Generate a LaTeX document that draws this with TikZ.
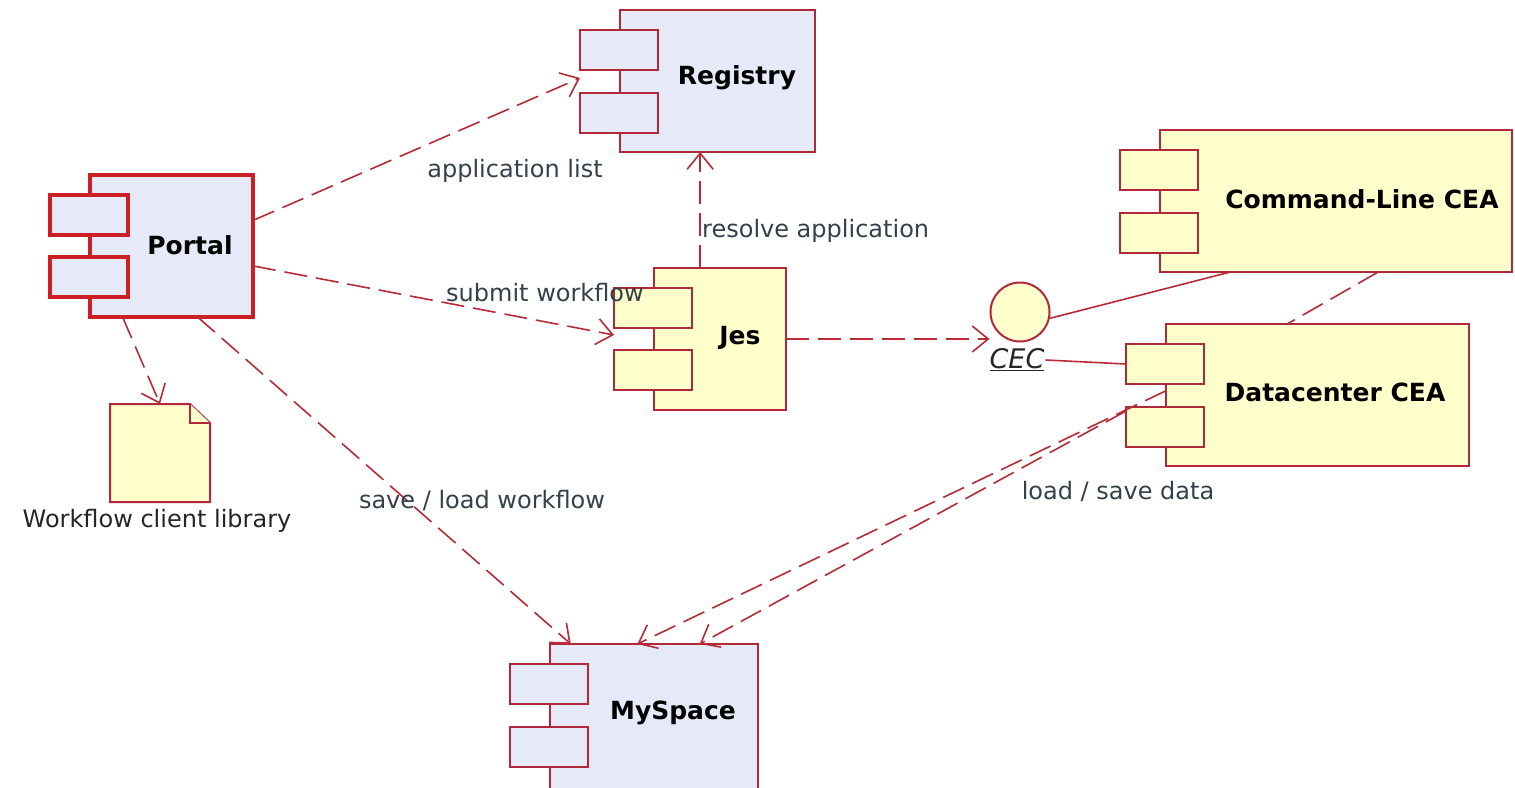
\documentclass[tikz,border=0pt]{standalone}
\usepackage{fontspec}
\setmainfont{DejaVu Sans}
\usetikzlibrary{arrows.meta,calc}
\definecolor{lav}{HTML}{E6E9F8}
\definecolor{cream}{HTML}{FFFFCC}
\definecolor{edge}{HTML}{B0283A}
\definecolor{hot}{HTML}{CC1F25}
\definecolor{wire}{HTML}{B82A36}
\definecolor{ink}{HTML}{34404A}
\tikzset{
  part/.style={draw=edge, line width=2pt, inner sep=0pt, outer sep=0pt, anchor=north west},
  port/.style={part, minimum width=78pt, minimum height=40pt},
  title/.style={font=\fontsize{25}{30}\selectfont\bfseries, text=black, inner sep=0pt},
  tag/.style={font=\fontsize{24}{29}\selectfont, text=ink, inner sep=1pt},
  dep/.style={draw=wire, line width=1.6pt, dash pattern=on 23pt off 9pt,
    -{Straight Barb[length=16pt, width=26pt, line width=1.6pt]}},
  plaindash/.style={draw=wire, line width=1.6pt, dash pattern=on 23pt off 9pt},
  link/.style={draw=wire, line width=1.6pt},
}
\begin{document}
\begin{tikzpicture}[x=1pt, y=-1pt]
\useasboundingbox (0,0) rectangle (1515,787);
\clip (0,0) rectangle (1515,787);
\fill[white] (0,0) rectangle (1515,787);

% Portal (highlighted component)
\node[part, draw=hot, line width=3.2pt, fill=lav, minimum width=163pt, minimum height=142pt] (portal) at (90,175) {};
\node[port, draw=hot, line width=3.2pt, fill=lav] (portal-a) at (50,195) {};
\node[port, draw=hot, line width=3.2pt, fill=lav] (portal-b) at (50,257) {};
\node[title] (portal-t) at (190,245) {Portal};

% Registry
\node[part, fill=lav, minimum width=195pt, minimum height=142pt] (reg) at (620,10) {};
\node[port, fill=lav] (reg-a) at (580,30) {};
\node[port, fill=lav] (reg-b) at (580,93) {};
\node[title] (reg-t) at (737,78) {Registry};

% Jes
\node[part, fill=cream, minimum width=132pt, minimum height=142pt] (jes) at (654,268) {};
\node[port, fill=cream] (jes-a) at (614,288) {};
\node[port, fill=cream] (jes-b) at (614,350) {};
\node[title] (jes-t) at (740,338) {Jes};

% Command-Line CEA
\node[part, fill=cream, minimum width=352pt, minimum height=142pt] (cl) at (1160,130) {};
\node[port, fill=cream] (cl-a) at (1120,150) {};
\node[port, fill=cream] (cl-b) at (1120,213) {};
\node[title] (cl-t) at (1362,199) {Command-Line CEA};

% Datacenter CEA
\node[part, fill=cream, minimum width=303pt, minimum height=142pt] (dc) at (1166,324) {};
\node[port, fill=cream] (dc-a) at (1126,344) {};
\node[port, fill=cream] (dc-b) at (1126,407) {};
\node[title] (dc-t) at (1335,392) {Datacenter CEA};

% MySpace
\node[part, fill=lav, minimum width=208pt, minimum height=170pt] (mys) at (550,644) {};
\node[port, fill=lav] (mys-a) at (510,664) {};
\node[port, fill=lav] (mys-b) at (510,727) {};
\node[title] (mys-t) at (673,713) {MySpace};

% Workflow client library (document icon)
\node[inner sep=0pt, outer sep=0pt, minimum width=100pt, minimum height=98pt, anchor=north west] (lib) at (110,404) {};
\draw[edge, line width=2pt, fill=cream, line join=miter]
  (lib.north west) -- ($(lib.north east)+(-20,0)$) -- ($(lib.north east)+(0,19)$)
  -- (lib.south east) -- (lib.south west) -- cycle;
\draw[edge, line width=1.6pt, fill=cream]
  ($(lib.north east)+(-20,0)$) -- ($(lib.north east)+(-20,19)$) -- ($(lib.north east)+(0,19)$);
\node[tag, text=black!85] (lib-t) at (157,521) {Workflow client library};

% CEC interface
\node[circle, draw=edge, fill=cream, line width=2pt, minimum size=59pt, inner sep=0pt] (cec) at (1020,312) {};
\node[font=\fontsize{27}{31}\selectfont\itshape, text=black!85, inner sep=1pt] (cec-t) at (1017,360) {\underline{CEC}};

% Connectors
\draw[dep] ($(portal.north east)!0.32!(portal.south east)$) -- ($(reg-a.south west)+(0,8)$);
\draw[dep] ($(portal.north east)!0.64!(portal.south east)$) -- ($(jes-a.south west)+(0,7)$);
\draw[dep] ($(jes.north west)!0.35!(jes.north east)$) coordinate (jes-up) -- (jes-up |- reg.south);
\draw[dep] (jes.east) -- (cec.west |- jes.east);
\draw[dep] ($(portal.south west)!0.2!(portal.south east)$) -- (lib.north);
\draw[dep] ($(portal.south west)!0.66!(portal.south east)$) -- ($(mys.north west)!0.1!(mys.north east)$);
\draw[dep] ($(dc.north west)!0.47!(dc.south west)$) -- ($(mys.north west)!0.42!(mys.north east)$);
\draw[dep] ($(dc-b.north west)+(0,4)$) -- ($(mys.north west)!0.72!(mys.north east)$);
\draw[plaindash] ($(cl.south west)!0.62!(cl.south east)$) -- ($(dc.north west)!0.4!(dc.north east)$);
\draw[link] (cec.-12) -- ($(cl.south west)!0.2!(cl.south east)$);
\draw[link] (cec-t.east) -- (dc-a.west);

% Connector labels
\node[tag] (l-app) at (515,171) {application list};
\node[tag] (l-sub) at (545,293) {submit workflow};
\node[tag, anchor=west] (l-res) at (701,231) {resolve application};
\node[tag] (l-save) at (482,500) {save / load workflow};
\node[tag] (l-data) at (1118,491) {load / save data};
\end{tikzpicture}
\end{document}
